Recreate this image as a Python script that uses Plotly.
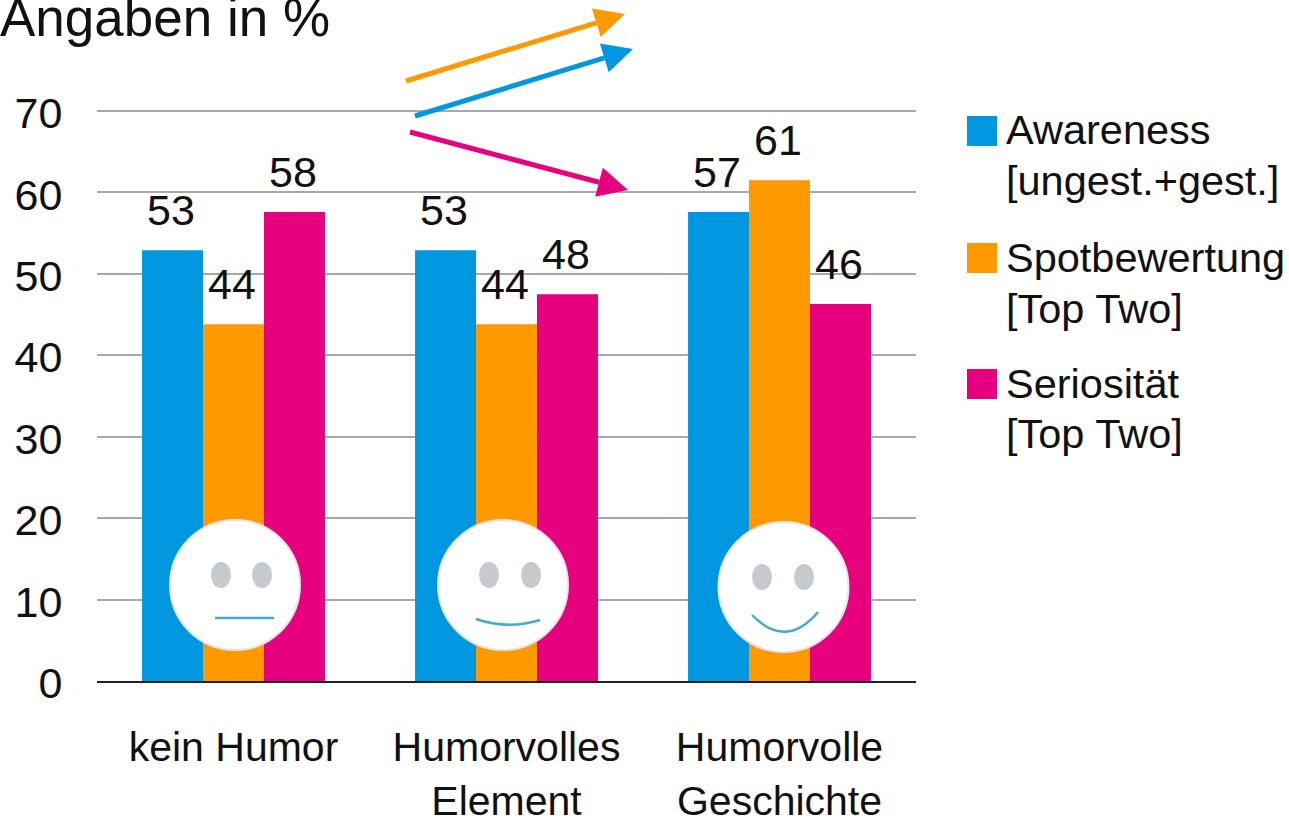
import math
import plotly.graph_objects as go

W, H = 1289, 819
L, R, T, B = 97, 916, 109, 681

categories = ["kein Humor", "Humorvolles<br>Element", "Humorvolle<br>Geschichte"]
series_names = ["Awareness", "Spotbewertung", "Seriosität"]
legend_labels = [["Awareness", "[ungest.+gest.]"], ["Spotbewertung", "[Top Two]"], ["Seriosität", "[Top Two]"]]
colors = ["#0097E0", "#FF9900", "#E6007E"]
awareness = [52.9, 52.9, 57.6]
spot = [43.8, 43.8, 61.5]
serios = [57.6, 47.5, 46.3]
awareness_text = ["53", "53", "57"]
spot_text = ["44", "44", "61"]
serios_text = ["58", "48", "46"]
y_ticks = [0, 10, 20, 30, 40, 50, 60, 70]

FONT = "Liberation Sans, Arial, sans-serif"
FS = 41
INK = "#111111"


def px(x):
    return (x - L) / (R - L)


def py(y):
    return (B - y) / (B - T)


fig = go.Figure()
shapes = []
annotations = []
for k, (name, vals, txt, c) in enumerate(zip(series_names, [awareness, spot, serios],
                                             [awareness_text, spot_text, serios_text], colors)):
    fig.add_bar(x=categories, y=vals, name=name, marker_color=c, marker_line_width=0, showlegend=False)
    for cat, v, t in zip(categories, vals, txt):
        annotations.append(dict(xref="x", yref="y", x=cat, y=v, text=t, showarrow=False,
                                xshift=(k - 1) * 61 - 2, yshift=14, yanchor="bottom",
                                font=dict(family=FONT, size=43, color=INK)))

# Smileys: (cx, cy, left eye x, right eye x, eye y, mouth path)
faces = [
    (235, 585, 221, 262, 575, "M 215 618 L 274 618"),
    (503, 585, 489, 531, 575, "M 476 619 Q 508 630 540 620"),
    (783.5, 587, 762, 804, 577, "M 752 615 Q 786 650 818 612"),
]


def path_to_paper(p):
    toks = p.split()
    out, i = [], 0
    while i < len(toks):
        if toks[i].isalpha():
            out.append(toks[i])
            i += 1
        else:
            out.append(f"{px(float(toks[i])):.5f},{py(float(toks[i + 1])):.5f}")
            i += 2
    return " ".join(out)


for cx, cy, ex1, ex2, ey, mouth in faces:
    r = 65
    shapes.append(dict(type="circle", xref="paper", yref="paper", x0=px(cx - r), x1=px(cx + r),
                       y0=py(cy + r), y1=py(cy - r), fillcolor="white",
                       line=dict(color="#E2E4E6", width=2), layer="above"))
    for ex in (ex1, ex2):
        shapes.append(dict(type="circle", xref="paper", yref="paper", x0=px(ex - 10), x1=px(ex + 10),
                           y0=py(ey + 13), y1=py(ey - 13), fillcolor="#C6CACE",
                           line=dict(width=0), layer="above"))
    shapes.append(dict(type="path", xref="paper", yref="paper", path=path_to_paper(mouth),
                       line=dict(color="#45A9D4", width=2.5), layer="above"))

# Legend
legend_rows = [(116, 130), (243, 257), (369, 383)]
for (sy, ty), lines, c in zip(legend_rows, legend_labels, colors):
    shapes.append(dict(type="rect", xref="paper", yref="paper", x0=px(967), x1=px(997),
                       y0=py(sy + 30), y1=py(sy), fillcolor=c, line=dict(width=0)))
    for j, line in enumerate(lines):
        annotations.append(dict(xref="paper", yref="paper", x=px(1004), y=py(ty + 51 * j), text=line,
                                showarrow=False, xanchor="left", yanchor="middle", align="left",
                                font=dict(family=FONT, size=41.5, color=INK)))

# Trend arrows: start, head
arrows = [((406, 81), (625, 14), colors[1]),
          ((415, 116), (633, 49), colors[0]),
          ((410, 132), (628, 190), colors[2])]
HEAD_LEN, HEAD_HALF = 30, 15
for (x0, y0), (x1, y1), c in arrows:
    d = math.hypot(x1 - x0, y1 - y0)
    ux, uy = (x1 - x0) / d, (y1 - y0) / d
    bx, by = x1 - ux * HEAD_LEN, y1 - uy * HEAD_LEN
    shapes.append(dict(type="line", xref="paper", yref="paper", x0=px(x0), y0=py(y0), x1=px(bx), y1=py(by),
                       line=dict(color=c, width=5), layer="above"))
    tri = (f"M {px(x1):.5f},{py(y1):.5f} "
           f"L {px(bx - uy * HEAD_HALF):.5f},{py(by + ux * HEAD_HALF):.5f} "
           f"L {px(bx + uy * HEAD_HALF):.5f},{py(by - ux * HEAD_HALF):.5f} Z")
    shapes.append(dict(type="path", xref="paper", yref="paper", path=tri, fillcolor=c,
                       line=dict(width=0), layer="above"))

fig.update_layout(
    width=W, height=H, autosize=False,
    margin=dict(l=L, r=W - R, t=T, b=H - B, pad=0),
    plot_bgcolor="white", paper_bgcolor="white",
    barmode="group", bargap=0.33, bargroupgap=0,
    font=dict(family=FONT, size=FS, color=INK),
    title=dict(text="Angaben in %", x=0, xref="container", xanchor="left",
               y=1 - 17 / H, yref="container", yanchor="middle",
               font=dict(family=FONT, size=53, color=INK)),
    shapes=shapes, annotations=annotations,
    xaxis=dict(type="category", automargin=False, showgrid=False, showline=True,
               linecolor="#222222", linewidth=2,
               ticks="outside", ticklen=29, tickcolor="rgba(0,0,0,0)",
               tickfont=dict(family=FONT, size=FS, color=INK)),
    yaxis=dict(range=[0, 70.25], automargin=False, tickvals=y_ticks, showgrid=True,
               gridcolor="#A8A8A8", gridwidth=2, zeroline=False,
               ticks="outside", ticklen=25, tickcolor="rgba(0,0,0,0)", ticklabelshift=2,
               tickfont=dict(family=FONT, size=43, color=INK)),
)

fig.write_html("out.html", config={"displayModeBar": False},
               post_script="document.body.style.margin='0';document.body.style.overflow='hidden';")
